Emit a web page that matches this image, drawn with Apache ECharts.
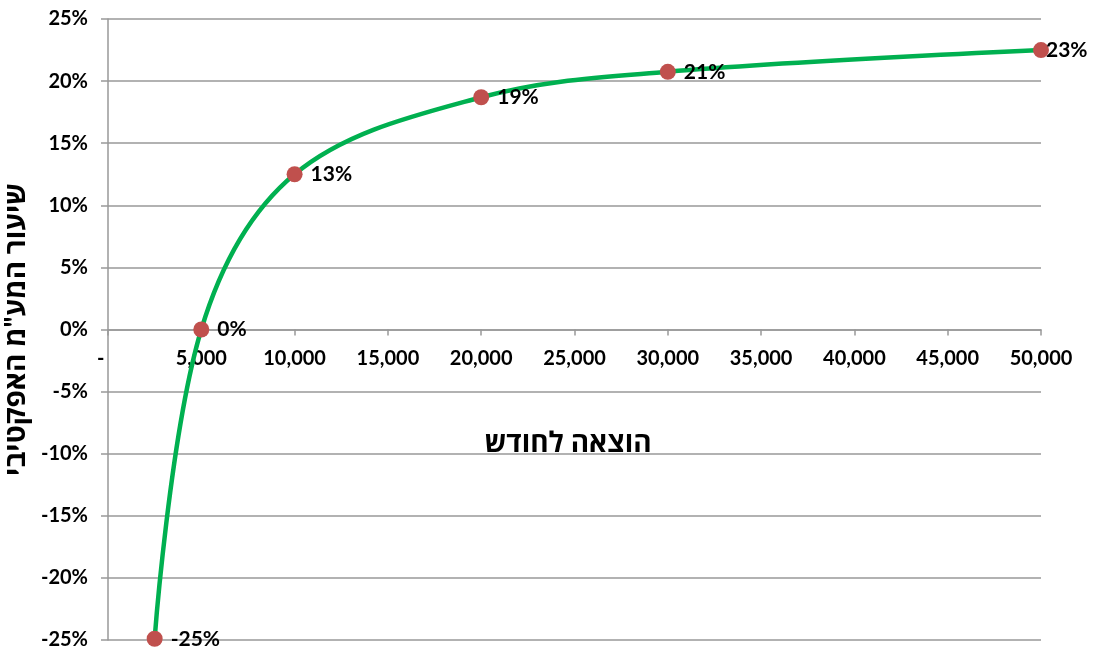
<!DOCTYPE html>
<html>
<head>
<meta charset="utf-8">
<script src="https://cdn.jsdelivr.net/npm/echarts@6/dist/echarts.min.js"></script>
<style>
  html, body { margin: 0; padding: 0; background: #fff; }
  #chart { width: 1095px; height: 650px; }
</style>
</head>
<body>
<div id="chart"></div>
<script>
  // הוצאה לחודש מול שיעור המע"מ האפקטיבי
  const spending = [2500, 5000, 10000, 20000, 30000, 50000]
  const effectiveRate = [-0.249, 0, 0.125, 0.187, 0.2075, 0.225]
  const xTitle = 'הוצאה לחודש'
  const yTitle = 'שיעור המע"מ האפקטיבי'

  const font = 'Lato, "Open Sans", "DejaVu Sans", sans-serif'
  const pct = v => Math.round(v * 100) + '%'

  const myChart = echarts.init(document.getElementById('chart'))
  const data = spending.map((x, i) => {
    const item = {value: [x, effectiveRate[i]]}
    if (i === spending.length - 1) item.label = {distance: -3}
    return item
  })

  myChart.setOption({
    animation: false,
    title: {
      text: xTitle, left: 563, top: 424, textAlign: 'center',
      textStyle: {fontFamily: font, fontWeight: 'bold', fontSize: 28, color: '#000'},
    },
    grid: {left: 108, right: 54, top: 19, bottom: 10, outerBoundsMode: 'none', containLabel: false},
    xAxis: {
      type: 'value', min: 0, max: 50000, interval: 5000,
      axisLine: {onZero: true, lineStyle: {color: '#999', width: 1.5}},
      axisTick: {show: true, length: 6, lineStyle: {color: '#999', width: 1.5}},
      // תוויות הציר מוצבות מתחת לקו האפס
      axisLabel: {
        margin: -291, fontFamily: font, fontWeight: 'bold', fontSize: 20, color: '#000',
        formatter: v => v === 0 ? '-   ' : v.toLocaleString('en-US'),
      },
      splitLine: {show: false},
    },
    yAxis: {
      type: 'value', min: -0.25, max: 0.25, interval: 0.05,
      name: yTitle, nameLocation: 'middle', nameGap: 72,
      nameTextStyle: {fontFamily: font, fontWeight: 'bold', fontSize: 28, color: '#000'},
      axisLine: {show: true, lineStyle: {color: '#999', width: 1.5}},
      axisTick: {show: true, length: 7, lineStyle: {color: '#999', width: 1.5}},
      axisLabel: {margin: 20, fontFamily: font, fontWeight: 'bold', fontSize: 20, color: '#000', formatter: pct},
      splitLine: {show: true, lineStyle: {color: '#999', width: 1.5}},
    },
    series: [{
      type: 'line',
      data,
      smooth: 0.35,
      symbol: 'circle',
      symbolSize: 16,
      itemStyle: {color: '#C0504D'},
      lineStyle: {color: '#00B050', width: 4.5},
      label: {
        show: true, position: 'right', distance: 8,
        fontFamily: font, fontWeight: 'bold', fontSize: 21, color: '#000',
        formatter: p => pct(p.value[1]),
      },
      z: 3,
    }],
  })
</script>
</body>
</html>
